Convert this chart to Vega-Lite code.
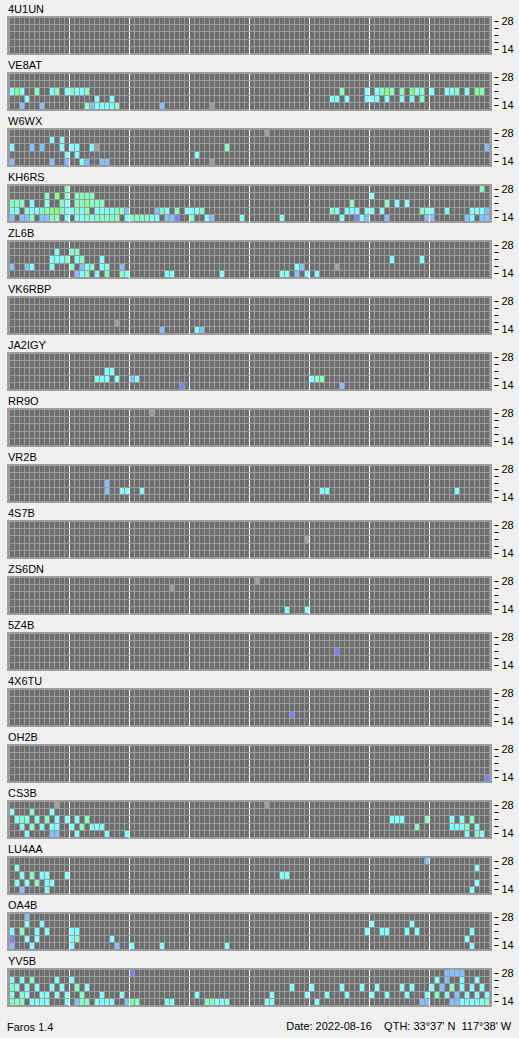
{
  "$schema": "https://vega.github.io/schema/vega-lite/v6.json",
  "background": "#f0f0f0",
  "padding": {"left": 7, "top": 2, "right": 8, "bottom": 5},
  "data": {"values": [
    {"b":"4U1UN","t":null,"f":null,"s":null},
    {"b":"VE8AT","t":0,"f":21,"s":3},{"b":"VE8AT","t":1,"f":21,"s":5},{"b":"VE8AT","t":2,"f":21,"s":3},{"b":"VE8AT","t":5,"f":21,"s":4},{"b":"VE8AT","t":8,"f":21,"s":3},{"b":"VE8AT","t":9,"f":21,"s":4},{"b":"VE8AT","t":11,"f":21,"s":3},{"b":"VE8AT","t":12,"f":21,"s":4},{"b":"VE8AT","t":13,"f":21,"s":3},{"b":"VE8AT","t":14,"f":21,"s":3},{"b":"VE8AT","t":15,"f":21,"s":4},{"b":"VE8AT","t":66,"f":21,"s":4},{"b":"VE8AT","t":71,"f":21,"s":3},{"b":"VE8AT","t":73,"f":21,"s":3},{"b":"VE8AT","t":74,"f":21,"s":4},{"b":"VE8AT","t":75,"f":21,"s":5},{"b":"VE8AT","t":76,"f":21,"s":4},{"b":"VE8AT","t":78,"f":21,"s":4},{"b":"VE8AT","t":80,"f":21,"s":5},{"b":"VE8AT","t":81,"f":21,"s":3},{"b":"VE8AT","t":82,"f":21,"s":4},{"b":"VE8AT","t":84,"f":21,"s":3},{"b":"VE8AT","t":87,"f":21,"s":3},{"b":"VE8AT","t":88,"f":21,"s":3},{"b":"VE8AT","t":89,"f":21,"s":4},{"b":"VE8AT","t":91,"f":21,"s":3},{"b":"VE8AT","t":93,"f":21,"s":5},{"b":"VE8AT","t":94,"f":21,"s":4},
    {"b":"VE8AT","t":3,"f":18,"s":3},{"b":"VE8AT","t":17,"f":18,"s":3},{"b":"VE8AT","t":20,"f":18,"s":3},{"b":"VE8AT","t":64,"f":18,"s":3},{"b":"VE8AT","t":65,"f":18,"s":3},{"b":"VE8AT","t":67,"f":18,"s":3},{"b":"VE8AT","t":71,"f":18,"s":3},{"b":"VE8AT","t":72,"f":18,"s":3},{"b":"VE8AT","t":73,"f":18,"s":3},{"b":"VE8AT","t":75,"f":18,"s":3},{"b":"VE8AT","t":78,"f":18,"s":3},{"b":"VE8AT","t":80,"f":18,"s":3},{"b":"VE8AT","t":82,"f":18,"s":4},
    {"b":"VE8AT","t":2,"f":14,"s":2},{"b":"VE8AT","t":6,"f":14,"s":2},{"b":"VE8AT","t":15,"f":14,"s":4},{"b":"VE8AT","t":16,"f":14,"s":2},{"b":"VE8AT","t":17,"f":14,"s":3},{"b":"VE8AT","t":18,"f":14,"s":3},{"b":"VE8AT","t":19,"f":14,"s":3},{"b":"VE8AT","t":20,"f":14,"s":3},{"b":"VE8AT","t":21,"f":14,"s":4},{"b":"VE8AT","t":30,"f":14,"s":2},{"b":"VE8AT","t":40,"f":14,"s":0},
    {"b":"W6WX","t":51,"f":28,"s":0},{"b":"W6WX","t":8,"f":24,"s":3},{"b":"W6WX","t":10,"f":24,"s":3},
    {"b":"W6WX","t":0,"f":21,"s":3},{"b":"W6WX","t":4,"f":21,"s":2},{"b":"W6WX","t":6,"f":21,"s":2},{"b":"W6WX","t":10,"f":21,"s":3},{"b":"W6WX","t":12,"f":21,"s":3},{"b":"W6WX","t":13,"f":21,"s":3},{"b":"W6WX","t":16,"f":21,"s":3},{"b":"W6WX","t":17,"f":21,"s":0},{"b":"W6WX","t":43,"f":21,"s":4},{"b":"W6WX","t":95,"f":21,"s":2},
    {"b":"W6WX","t":11,"f":18,"s":3},{"b":"W6WX","t":13,"f":18,"s":3},{"b":"W6WX","t":37,"f":18,"s":3},
    {"b":"W6WX","t":0,"f":14,"s":2},{"b":"W6WX","t":8,"f":14,"s":2},{"b":"W6WX","t":11,"f":14,"s":2},{"b":"W6WX","t":14,"f":14,"s":3},{"b":"W6WX","t":15,"f":14,"s":2},{"b":"W6WX","t":18,"f":14,"s":2},{"b":"W6WX","t":19,"f":14,"s":2},{"b":"W6WX","t":40,"f":14,"s":0},
    {"b":"KH6RS","t":11,"f":28,"s":4},{"b":"KH6RS","t":94,"f":28,"s":4},
    {"b":"KH6RS","t":7,"f":24,"s":4},{"b":"KH6RS","t":9,"f":24,"s":5},{"b":"KH6RS","t":11,"f":24,"s":4},{"b":"KH6RS","t":13,"f":24,"s":4},{"b":"KH6RS","t":14,"f":24,"s":4},{"b":"KH6RS","t":15,"f":24,"s":4},{"b":"KH6RS","t":16,"f":24,"s":4},{"b":"KH6RS","t":72,"f":24,"s":3},
    {"b":"KH6RS","t":0,"f":21,"s":4},{"b":"KH6RS","t":1,"f":21,"s":4},{"b":"KH6RS","t":2,"f":21,"s":4},{"b":"KH6RS","t":4,"f":21,"s":3},{"b":"KH6RS","t":7,"f":21,"s":3},{"b":"KH6RS","t":10,"f":21,"s":4},{"b":"KH6RS","t":11,"f":21,"s":3},{"b":"KH6RS","t":13,"f":21,"s":4},{"b":"KH6RS","t":14,"f":21,"s":4},{"b":"KH6RS","t":15,"f":21,"s":5},{"b":"KH6RS","t":16,"f":21,"s":4},{"b":"KH6RS","t":17,"f":21,"s":4},{"b":"KH6RS","t":18,"f":21,"s":4},{"b":"KH6RS","t":68,"f":21,"s":4},{"b":"KH6RS","t":75,"f":21,"s":4},{"b":"KH6RS","t":77,"f":21,"s":3},{"b":"KH6RS","t":79,"f":21,"s":3},
    {"b":"KH6RS","t":0,"f":18,"s":3},{"b":"KH6RS","t":1,"f":18,"s":3},{"b":"KH6RS","t":3,"f":18,"s":3},{"b":"KH6RS","t":4,"f":18,"s":3},{"b":"KH6RS","t":5,"f":18,"s":3},{"b":"KH6RS","t":6,"f":18,"s":4},{"b":"KH6RS","t":7,"f":18,"s":4},{"b":"KH6RS","t":8,"f":18,"s":5},{"b":"KH6RS","t":9,"f":18,"s":5},{"b":"KH6RS","t":10,"f":18,"s":4},{"b":"KH6RS","t":11,"f":18,"s":3},{"b":"KH6RS","t":12,"f":18,"s":3},{"b":"KH6RS","t":13,"f":18,"s":4},{"b":"KH6RS","t":14,"f":18,"s":3},{"b":"KH6RS","t":15,"f":18,"s":4},{"b":"KH6RS","t":17,"f":18,"s":3},{"b":"KH6RS","t":18,"f":18,"s":3},{"b":"KH6RS","t":19,"f":18,"s":3},{"b":"KH6RS","t":20,"f":18,"s":3},{"b":"KH6RS","t":21,"f":18,"s":4},{"b":"KH6RS","t":22,"f":18,"s":4},{"b":"KH6RS","t":23,"f":18,"s":2},{"b":"KH6RS","t":29,"f":18,"s":2},{"b":"KH6RS","t":30,"f":18,"s":4},{"b":"KH6RS","t":31,"f":18,"s":3},{"b":"KH6RS","t":33,"f":18,"s":4},{"b":"KH6RS","t":35,"f":18,"s":3},{"b":"KH6RS","t":36,"f":18,"s":3},{"b":"KH6RS","t":37,"f":18,"s":3},{"b":"KH6RS","t":38,"f":18,"s":4},{"b":"KH6RS","t":64,"f":18,"s":4},{"b":"KH6RS","t":65,"f":18,"s":3},{"b":"KH6RS","t":67,"f":18,"s":3},{"b":"KH6RS","t":68,"f":18,"s":3},{"b":"KH6RS","t":69,"f":18,"s":3},{"b":"KH6RS","t":71,"f":18,"s":3},{"b":"KH6RS","t":72,"f":18,"s":3},{"b":"KH6RS","t":74,"f":18,"s":3},{"b":"KH6RS","t":82,"f":18,"s":4},{"b":"KH6RS","t":83,"f":18,"s":3},{"b":"KH6RS","t":84,"f":18,"s":3},{"b":"KH6RS","t":87,"f":18,"s":3},{"b":"KH6RS","t":92,"f":18,"s":3},{"b":"KH6RS","t":93,"f":18,"s":3},{"b":"KH6RS","t":94,"f":18,"s":3},{"b":"KH6RS","t":95,"f":18,"s":2},
    {"b":"KH6RS","t":0,"f":14,"s":2},{"b":"KH6RS","t":2,"f":14,"s":2},{"b":"KH6RS","t":3,"f":14,"s":2},{"b":"KH6RS","t":4,"f":14,"s":4},{"b":"KH6RS","t":6,"f":14,"s":2},{"b":"KH6RS","t":7,"f":14,"s":2},{"b":"KH6RS","t":8,"f":14,"s":4},{"b":"KH6RS","t":9,"f":14,"s":4},{"b":"KH6RS","t":11,"f":14,"s":3},{"b":"KH6RS","t":13,"f":14,"s":3},{"b":"KH6RS","t":14,"f":14,"s":3},{"b":"KH6RS","t":15,"f":14,"s":4},{"b":"KH6RS","t":16,"f":14,"s":3},{"b":"KH6RS","t":17,"f":14,"s":4},{"b":"KH6RS","t":18,"f":14,"s":4},{"b":"KH6RS","t":19,"f":14,"s":4},{"b":"KH6RS","t":20,"f":14,"s":4},{"b":"KH6RS","t":21,"f":14,"s":4},{"b":"KH6RS","t":23,"f":14,"s":3},{"b":"KH6RS","t":24,"f":14,"s":4},{"b":"KH6RS","t":25,"f":14,"s":4},{"b":"KH6RS","t":26,"f":14,"s":4},{"b":"KH6RS","t":27,"f":14,"s":4},{"b":"KH6RS","t":28,"f":14,"s":3},{"b":"KH6RS","t":29,"f":14,"s":3},{"b":"KH6RS","t":31,"f":14,"s":2},{"b":"KH6RS","t":32,"f":14,"s":2},{"b":"KH6RS","t":33,"f":14,"s":1},{"b":"KH6RS","t":36,"f":14,"s":4},{"b":"KH6RS","t":39,"f":14,"s":3},{"b":"KH6RS","t":40,"f":14,"s":2},{"b":"KH6RS","t":46,"f":14,"s":3},{"b":"KH6RS","t":54,"f":14,"s":3},{"b":"KH6RS","t":66,"f":14,"s":3},{"b":"KH6RS","t":69,"f":14,"s":1},{"b":"KH6RS","t":70,"f":14,"s":3},{"b":"KH6RS","t":71,"f":14,"s":2},{"b":"KH6RS","t":75,"f":14,"s":2},{"b":"KH6RS","t":83,"f":14,"s":2},{"b":"KH6RS","t":84,"f":14,"s":2},{"b":"KH6RS","t":91,"f":14,"s":2},{"b":"KH6RS","t":92,"f":14,"s":3},{"b":"KH6RS","t":94,"f":14,"s":2},{"b":"KH6RS","t":95,"f":14,"s":2},
    {"b":"ZL6B","t":9,"f":24,"s":3},{"b":"ZL6B","t":12,"f":24,"s":4},{"b":"ZL6B","t":13,"f":24,"s":4},
    {"b":"ZL6B","t":8,"f":21,"s":3},{"b":"ZL6B","t":9,"f":21,"s":3},{"b":"ZL6B","t":10,"f":21,"s":3},{"b":"ZL6B","t":11,"f":21,"s":4},{"b":"ZL6B","t":13,"f":21,"s":3},{"b":"ZL6B","t":14,"f":21,"s":4},{"b":"ZL6B","t":18,"f":21,"s":3},{"b":"ZL6B","t":76,"f":21,"s":3},{"b":"ZL6B","t":82,"f":21,"s":3},
    {"b":"ZL6B","t":0,"f":18,"s":2},{"b":"ZL6B","t":3,"f":18,"s":2},{"b":"ZL6B","t":4,"f":18,"s":3},{"b":"ZL6B","t":8,"f":18,"s":3},{"b":"ZL6B","t":12,"f":18,"s":4},{"b":"ZL6B","t":14,"f":18,"s":2},{"b":"ZL6B","t":15,"f":18,"s":3},{"b":"ZL6B","t":16,"f":18,"s":4},{"b":"ZL6B","t":18,"f":18,"s":3},{"b":"ZL6B","t":19,"f":18,"s":3},{"b":"ZL6B","t":22,"f":18,"s":2},{"b":"ZL6B","t":57,"f":18,"s":3},{"b":"ZL6B","t":58,"f":18,"s":2},{"b":"ZL6B","t":65,"f":18,"s":0},
    {"b":"ZL6B","t":13,"f":14,"s":2},{"b":"ZL6B","t":14,"f":14,"s":3},{"b":"ZL6B","t":15,"f":14,"s":4},{"b":"ZL6B","t":17,"f":14,"s":3},{"b":"ZL6B","t":19,"f":14,"s":4},{"b":"ZL6B","t":22,"f":14,"s":4},{"b":"ZL6B","t":23,"f":14,"s":3},{"b":"ZL6B","t":31,"f":14,"s":3},{"b":"ZL6B","t":32,"f":14,"s":3},{"b":"ZL6B","t":42,"f":14,"s":3},{"b":"ZL6B","t":54,"f":14,"s":3},{"b":"ZL6B","t":55,"f":14,"s":3},{"b":"ZL6B","t":57,"f":14,"s":2},{"b":"ZL6B","t":59,"f":14,"s":3},{"b":"ZL6B","t":61,"f":14,"s":3},
    {"b":"VK6RBP","t":21,"f":18,"s":0},{"b":"VK6RBP","t":30,"f":14,"s":2},{"b":"VK6RBP","t":37,"f":14,"s":3},{"b":"VK6RBP","t":38,"f":14,"s":2},
    {"b":"JA2IGY","t":19,"f":21,"s":3},{"b":"JA2IGY","t":20,"f":21,"s":3},{"b":"JA2IGY","t":17,"f":18,"s":3},{"b":"JA2IGY","t":18,"f":18,"s":3},{"b":"JA2IGY","t":19,"f":18,"s":3},{"b":"JA2IGY","t":21,"f":18,"s":3},{"b":"JA2IGY","t":24,"f":18,"s":2},{"b":"JA2IGY","t":25,"f":18,"s":3},{"b":"JA2IGY","t":60,"f":18,"s":3},{"b":"JA2IGY","t":61,"f":18,"s":4},{"b":"JA2IGY","t":62,"f":18,"s":4},{"b":"JA2IGY","t":34,"f":14,"s":1},{"b":"JA2IGY","t":66,"f":14,"s":2},
    {"b":"RR9O","t":28,"f":28,"s":0},
    {"b":"VR2B","t":19,"f":21,"s":2},{"b":"VR2B","t":19,"f":18,"s":2},{"b":"VR2B","t":22,"f":18,"s":3},{"b":"VR2B","t":23,"f":18,"s":3},{"b":"VR2B","t":26,"f":18,"s":3},{"b":"VR2B","t":62,"f":18,"s":3},{"b":"VR2B","t":63,"f":18,"s":3},{"b":"VR2B","t":89,"f":18,"s":3},
    {"b":"4S7B","t":59,"f":21,"s":0},
    {"b":"ZS6DN","t":49,"f":28,"s":0},{"b":"ZS6DN","t":32,"f":24,"s":0},{"b":"ZS6DN","t":55,"f":14,"s":3},{"b":"ZS6DN","t":59,"f":14,"s":3},
    {"b":"5Z4B","t":65,"f":21,"s":1},
    {"b":"4X6TU","t":56,"f":18,"s":1},
    {"b":"OH2B","t":95,"f":14,"s":1},
    {"b":"CS3B","t":9,"f":28,"s":0},{"b":"CS3B","t":51,"f":28,"s":0},
    {"b":"CS3B","t":0,"f":24,"s":3},{"b":"CS3B","t":4,"f":24,"s":4},{"b":"CS3B","t":8,"f":24,"s":3},
    {"b":"CS3B","t":1,"f":21,"s":3},{"b":"CS3B","t":2,"f":21,"s":4},{"b":"CS3B","t":3,"f":21,"s":3},{"b":"CS3B","t":5,"f":21,"s":3},{"b":"CS3B","t":7,"f":21,"s":4},{"b":"CS3B","t":9,"f":21,"s":3},{"b":"CS3B","t":11,"f":21,"s":3},{"b":"CS3B","t":13,"f":21,"s":3},{"b":"CS3B","t":15,"f":21,"s":4},{"b":"CS3B","t":76,"f":21,"s":3},{"b":"CS3B","t":77,"f":21,"s":3},{"b":"CS3B","t":78,"f":21,"s":3},{"b":"CS3B","t":83,"f":21,"s":4},{"b":"CS3B","t":88,"f":21,"s":3},{"b":"CS3B","t":90,"f":21,"s":3},{"b":"CS3B","t":92,"f":21,"s":4},
    {"b":"CS3B","t":2,"f":18,"s":3},{"b":"CS3B","t":4,"f":18,"s":4},{"b":"CS3B","t":6,"f":18,"s":3},{"b":"CS3B","t":8,"f":18,"s":3},{"b":"CS3B","t":9,"f":18,"s":3},{"b":"CS3B","t":12,"f":18,"s":3},{"b":"CS3B","t":14,"f":18,"s":4},{"b":"CS3B","t":16,"f":18,"s":3},{"b":"CS3B","t":17,"f":18,"s":3},{"b":"CS3B","t":18,"f":18,"s":3},{"b":"CS3B","t":81,"f":18,"s":4},{"b":"CS3B","t":88,"f":18,"s":3},{"b":"CS3B","t":89,"f":18,"s":3},{"b":"CS3B","t":90,"f":18,"s":3},{"b":"CS3B","t":91,"f":18,"s":4},{"b":"CS3B","t":93,"f":18,"s":3},
    {"b":"CS3B","t":3,"f":14,"s":3},{"b":"CS3B","t":8,"f":14,"s":2},{"b":"CS3B","t":9,"f":14,"s":2},{"b":"CS3B","t":13,"f":14,"s":3},{"b":"CS3B","t":19,"f":14,"s":3},{"b":"CS3B","t":23,"f":14,"s":3},{"b":"CS3B","t":91,"f":14,"s":3},{"b":"CS3B","t":93,"f":14,"s":4},{"b":"CS3B","t":94,"f":14,"s":3},
    {"b":"LU4AA","t":83,"f":28,"s":2},
    {"b":"LU4AA","t":1,"f":24,"s":3},{"b":"LU4AA","t":93,"f":24,"s":3},
    {"b":"LU4AA","t":2,"f":21,"s":3},{"b":"LU4AA","t":4,"f":21,"s":4},{"b":"LU4AA","t":6,"f":21,"s":3},{"b":"LU4AA","t":7,"f":21,"s":3},{"b":"LU4AA","t":11,"f":21,"s":3},{"b":"LU4AA","t":54,"f":21,"s":3},{"b":"LU4AA","t":55,"f":21,"s":3},
    {"b":"LU4AA","t":1,"f":18,"s":3},{"b":"LU4AA","t":3,"f":18,"s":3},{"b":"LU4AA","t":5,"f":18,"s":4},{"b":"LU4AA","t":7,"f":18,"s":3},{"b":"LU4AA","t":8,"f":18,"s":3},{"b":"LU4AA","t":93,"f":18,"s":3},
    {"b":"LU4AA","t":2,"f":14,"s":2},{"b":"LU4AA","t":7,"f":14,"s":3},{"b":"LU4AA","t":92,"f":14,"s":3},
    {"b":"OA4B","t":3,"f":28,"s":2},
    {"b":"OA4B","t":3,"f":24,"s":3},{"b":"OA4B","t":6,"f":24,"s":3},{"b":"OA4B","t":72,"f":24,"s":3},{"b":"OA4B","t":80,"f":24,"s":3},
    {"b":"OA4B","t":0,"f":21,"s":3},{"b":"OA4B","t":2,"f":21,"s":4},{"b":"OA4B","t":5,"f":21,"s":3},{"b":"OA4B","t":7,"f":21,"s":3},{"b":"OA4B","t":12,"f":21,"s":3},{"b":"OA4B","t":13,"f":21,"s":3},{"b":"OA4B","t":71,"f":21,"s":3},{"b":"OA4B","t":74,"f":21,"s":3},{"b":"OA4B","t":75,"f":21,"s":3},{"b":"OA4B","t":79,"f":21,"s":3},{"b":"OA4B","t":81,"f":21,"s":3},{"b":"OA4B","t":92,"f":21,"s":3},
    {"b":"OA4B","t":0,"f":18,"s":1},{"b":"OA4B","t":3,"f":18,"s":3},{"b":"OA4B","t":5,"f":18,"s":3},{"b":"OA4B","t":12,"f":18,"s":3},{"b":"OA4B","t":13,"f":18,"s":4},{"b":"OA4B","t":20,"f":18,"s":3},{"b":"OA4B","t":91,"f":18,"s":3},
    {"b":"OA4B","t":0,"f":14,"s":2},{"b":"OA4B","t":4,"f":14,"s":3},{"b":"OA4B","t":12,"f":14,"s":3},{"b":"OA4B","t":21,"f":14,"s":2},{"b":"OA4B","t":24,"f":14,"s":3},{"b":"OA4B","t":30,"f":14,"s":3},{"b":"OA4B","t":43,"f":14,"s":3},{"b":"OA4B","t":92,"f":14,"s":3},
    {"b":"YV5B","t":24,"f":28,"s":1},{"b":"YV5B","t":87,"f":28,"s":2},{"b":"YV5B","t":88,"f":28,"s":2},{"b":"YV5B","t":89,"f":28,"s":2},{"b":"YV5B","t":90,"f":28,"s":2},
    {"b":"YV5B","t":0,"f":24,"s":3},{"b":"YV5B","t":2,"f":24,"s":3},{"b":"YV5B","t":4,"f":24,"s":4},{"b":"YV5B","t":9,"f":24,"s":3},{"b":"YV5B","t":12,"f":24,"s":3},{"b":"YV5B","t":85,"f":24,"s":3},{"b":"YV5B","t":87,"f":24,"s":2},{"b":"YV5B","t":90,"f":24,"s":3},{"b":"YV5B","t":93,"f":24,"s":3},
    {"b":"YV5B","t":0,"f":21,"s":4},{"b":"YV5B","t":1,"f":21,"s":3},{"b":"YV5B","t":3,"f":21,"s":3},{"b":"YV5B","t":5,"f":21,"s":3},{"b":"YV5B","t":8,"f":21,"s":3},{"b":"YV5B","t":10,"f":21,"s":3},{"b":"YV5B","t":13,"f":21,"s":4},{"b":"YV5B","t":15,"f":21,"s":3},{"b":"YV5B","t":56,"f":21,"s":3},{"b":"YV5B","t":60,"f":21,"s":3},{"b":"YV5B","t":66,"f":21,"s":3},{"b":"YV5B","t":70,"f":21,"s":3},{"b":"YV5B","t":73,"f":21,"s":3},{"b":"YV5B","t":78,"f":21,"s":3},{"b":"YV5B","t":80,"f":21,"s":3},{"b":"YV5B","t":84,"f":21,"s":3},{"b":"YV5B","t":86,"f":21,"s":2},{"b":"YV5B","t":88,"f":21,"s":4},{"b":"YV5B","t":90,"f":21,"s":3},{"b":"YV5B","t":92,"f":21,"s":3},{"b":"YV5B","t":94,"f":21,"s":3},
    {"b":"YV5B","t":0,"f":18,"s":3},{"b":"YV5B","t":2,"f":18,"s":4},{"b":"YV5B","t":3,"f":18,"s":3},{"b":"YV5B","t":6,"f":18,"s":3},{"b":"YV5B","t":7,"f":18,"s":3},{"b":"YV5B","t":9,"f":18,"s":3},{"b":"YV5B","t":11,"f":18,"s":3},{"b":"YV5B","t":14,"f":18,"s":4},{"b":"YV5B","t":18,"f":18,"s":3},{"b":"YV5B","t":22,"f":18,"s":3},{"b":"YV5B","t":37,"f":18,"s":3},{"b":"YV5B","t":52,"f":18,"s":3},{"b":"YV5B","t":59,"f":18,"s":3},{"b":"YV5B","t":63,"f":18,"s":3},{"b":"YV5B","t":67,"f":18,"s":3},{"b":"YV5B","t":72,"f":18,"s":3},{"b":"YV5B","t":75,"f":18,"s":3},{"b":"YV5B","t":79,"f":18,"s":3},{"b":"YV5B","t":83,"f":18,"s":3},{"b":"YV5B","t":85,"f":18,"s":4},{"b":"YV5B","t":87,"f":18,"s":3},{"b":"YV5B","t":89,"f":18,"s":2},{"b":"YV5B","t":91,"f":18,"s":3},{"b":"YV5B","t":93,"f":18,"s":3},{"b":"YV5B","t":95,"f":18,"s":3},
    {"b":"YV5B","t":0,"f":14,"s":4},{"b":"YV5B","t":1,"f":14,"s":4},{"b":"YV5B","t":2,"f":14,"s":4},{"b":"YV5B","t":4,"f":14,"s":3},{"b":"YV5B","t":5,"f":14,"s":3},{"b":"YV5B","t":6,"f":14,"s":3},{"b":"YV5B","t":7,"f":14,"s":3},{"b":"YV5B","t":11,"f":14,"s":3},{"b":"YV5B","t":13,"f":14,"s":2},{"b":"YV5B","t":14,"f":14,"s":4},{"b":"YV5B","t":15,"f":14,"s":4},{"b":"YV5B","t":17,"f":14,"s":3},{"b":"YV5B","t":18,"f":14,"s":3},{"b":"YV5B","t":19,"f":14,"s":3},{"b":"YV5B","t":20,"f":14,"s":3},{"b":"YV5B","t":23,"f":14,"s":2},{"b":"YV5B","t":24,"f":14,"s":5},{"b":"YV5B","t":25,"f":14,"s":4},{"b":"YV5B","t":31,"f":14,"s":3},{"b":"YV5B","t":32,"f":14,"s":3},{"b":"YV5B","t":39,"f":14,"s":4},{"b":"YV5B","t":40,"f":14,"s":4},{"b":"YV5B","t":41,"f":14,"s":3},{"b":"YV5B","t":42,"f":14,"s":3},{"b":"YV5B","t":43,"f":14,"s":3},{"b":"YV5B","t":51,"f":14,"s":3},{"b":"YV5B","t":52,"f":14,"s":3},{"b":"YV5B","t":61,"f":14,"s":3},{"b":"YV5B","t":82,"f":14,"s":2},{"b":"YV5B","t":83,"f":14,"s":2},{"b":"YV5B","t":88,"f":14,"s":2},{"b":"YV5B","t":89,"f":14,"s":2},{"b":"YV5B","t":90,"f":14,"s":3},{"b":"YV5B","t":91,"f":14,"s":3},{"b":"YV5B","t":92,"f":14,"s":3},{"b":"YV5B","t":93,"f":14,"s":3},{"b":"YV5B","t":94,"f":14,"s":3},{"b":"YV5B","t":95,"f":14,"s":4}
  ]},
  "facet": {
    "field": "b", "type": "nominal", "title": "Faros 1.4",
    "sort": ["4U1UN","VE8AT","W6WX","KH6RS","ZL6B","VK6RBP","JA2IGY","RR9O","VR2B","4S7B","ZS6DN","5Z4B","4X6TU","OH2B","CS3B","LU4AA","OA4B","YV5B"],
    "header": {
      "labelAnchor": "start", "labelAlign": "left", "labelFont": "Liberation Sans", "labelFontSize": 11, "labelColor": "#000000", "labelPadding": 0,
      "titleOrient": "bottom", "titleAnchor": "start", "titleAlign": "left", "titleFont": "Liberation Sans", "titleFontSize": 11, "titleFontWeight": "normal", "titleColor": "#000000", "titlePadding": 14
    }
  },
  "columns": 1,
  "spacing": 2,
  "resolve": {"axis": {"y": "independent"}},
  "spec": {
    "width": 483,
    "height": 37,
    "layer": [
      {
        "mark": {"type": "rect"},
        "encoding": {
          "x": {
            "field": "t", "type": "quantitative", "bin": {"step": 1, "extent": [0, 96]},
            "scale": {"domain": [-0.2, 96.4], "nice": false, "zero": false},
            "axis": {
              "title": null, "labels": false, "ticks": false, "domain": false, "grid": true,
              "values": [0,1,2,3,4,5,6,7,8,9,10,11,12,13,14,15,16,17,18,19,20,21,22,23,24,25,26,27,28,29,30,31,32,33,34,35,36,37,38,39,40,41,42,43,44,45,46,47,48,49,50,51,52,53,54,55,56,57,58,59,60,61,62,63,64,65,66,67,68,69,70,71,72,73,74,75,76,77,78,79,80,81,82,83,84,85,86,87,88,89,90,91,92,93,94,95,96],
              "gridColor": {"condition": {"test": "datum.value % 12 === 0 && datum.value > 0 && datum.value < 96", "value": "#ffffff"}, "value": "#9c9c9c"},
              "gridOpacity": 1, "gridWidth": 1, "zindex": 1
            }
          },
          "y": {
            "field": "f", "type": "ordinal",
            "scale": {"domain": [28, 24, 21, 18, 14], "paddingInner": 0, "paddingOuter": 0.142857},
            "axis": {"orient": "left", "title": null, "labels": false, "ticks": false, "domain": false, "grid": true, "bandPosition": 0, "gridColor": "#9c9c9c", "gridOpacity": 1, "gridWidth": 1, "zindex": 1, "minExtent": 0, "maxExtent": 0}
          },
          "color": {
            "field": "s", "type": "ordinal",
            "scale": {"domain": [0, 1, 2, 3, 4, 5], "range": ["#a0a0a0", "#8080ff", "#80c0ff", "#80ffff", "#80ffc0", "#80ff80"]},
            "legend": null
          }
        }
      },
      {
        "mark": {"type": "rect", "opacity": 0},
        "encoding": {
          "y": {
            "field": "f", "type": "ordinal",
            "axis": {"orient": "right", "title": null, "domain": false, "grid": false, "ticks": true, "tickSize": 4, "tickColor": "#000000", "tickWidth": 1, "offset": 3, "labelPadding": 3, "bandPosition": 0.5, "tickBand": "center", "labelOverlap": false, "labelExpr": "datum.value == 28 || datum.value == 14 ? datum.label : ''", "labelFont": "Liberation Sans", "labelFontSize": 11, "labelColor": "#000000", "minExtent": 0}
          }
        }
      }
    ],
    "resolve": {"axis": {"y": "independent"}}
  },
  "title": {"text": "Date: 2022-08-16\u00a0\u00a0\u00a0\u00a0QTH: 33°37' N\u00a0\u00a0117°38' W", "orient": "bottom", "anchor": "end", "frame": "bounds", "font": "Liberation Sans", "fontSize": 11, "fontWeight": "normal", "color": "#000000", "offset": -12, "dx": -3},
  "config": {
    "view": {"fill": "#6e6e6e", "stroke": "#9c9c9c", "strokeWidth": 2}
  }
}
